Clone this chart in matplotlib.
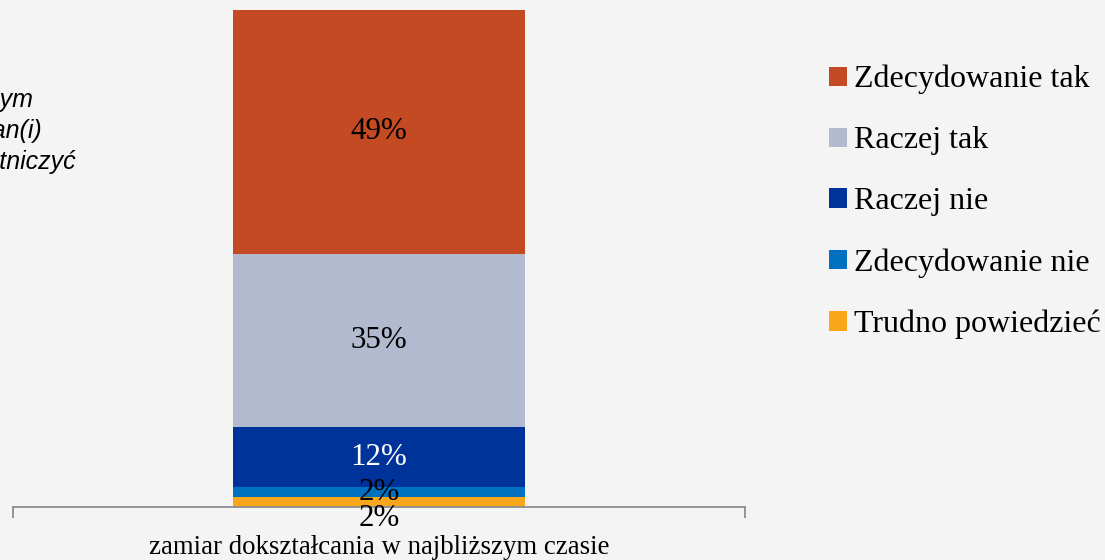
import matplotlib
matplotlib.use("Agg")
import matplotlib.pyplot as plt
from matplotlib.patches import Patch

categories = ["zamiar dokształcania w najbliższym czasie"]
series_names = ["Trudno powiedzieć", "Zdecydowanie nie", "Raczej nie", "Raczej tak", "Zdecydowanie tak"]
series_values = [2, 2, 12, 35, 49]
series_labels = ["2%", "2%", "12%", "35%", "49%"]
colors = ["#F9A61A", "#0070C0", "#003399", "#B2BACF", "#C34A22"]
label_colors = ["black", "black", "white", "black", "black"]
left_text_lines = ["Czy w najbliższym", "czasie planuje Pan(i)", "w szkoleniu uczestniczyć"]

W, H = 1105, 560
BG = "#F4F4F4"
fig = plt.figure(figsize=(W / 100, H / 100), dpi=100, facecolor=BG)
ax = fig.add_axes([13 / W, 1 - 507 / H, (745 - 13) / W, (507 - 10) / H])
ax.set_facecolor(BG)
serif = ["Liberation Serif", "DejaVu Serif"]

bottom = 0
for name, v, lab, c, lc in zip(series_names, series_values, series_labels, colors, label_colors):
    ax.bar(0, v, bottom=bottom, width=292 / 732, color=c, label=name)
    if name == "Trudno powiedzieć":
        ty = -2.4
    else:
        ty = bottom + v / 2
    ax.text(0, ty, lab, ha="center", va="center", fontsize=22.3, family=serif, color=lc, clip_on=False)
    bottom += v

ax.set_xlim(-0.5, 0.5)
ax.set_ylim(0, 100)
for s in ["top", "right", "left"]:
    ax.spines[s].set_visible(False)
ax.spines["bottom"].set_color("#8C8C8C")
ax.spines["bottom"].set_linewidth(1.3)
ax.set_yticks([])
ax.set_xticks([-0.5, 0.5])
ax.set_xticklabels(["", ""])
ax.tick_params(axis="x", length=8, width=1.3, color="#8C8C8C", direction="out")
ax.text(0, -8.1, categories[0], ha="center", va="center", fontsize=19.3, family=serif,
        transform=ax.transData, clip_on=False)

handles = [Patch(facecolor=c, edgecolor="none", label=n) for n, c in zip(series_names, colors)][::-1]
leg = fig.legend(handles=handles, loc="upper left", bbox_to_anchor=(829 / W, 1 - 65 / H),
                 frameon=False, prop={"family": serif, "size": 23},
                 borderaxespad=0, borderpad=0,
                 handlelength=0.55, handleheight=0.55, handletextpad=0.22, labelspacing=1.0)

ys = [107, 138, 169]
ends = [33, 42, 76]
for line, x, y in zip(left_text_lines, ends, ys):
    fig.text(x / W, 1 - y / H, line, ha="right", va="baseline", fontsize=18, style="italic",
             family=["Liberation Sans", "DejaVu Sans"])

fig.savefig("out.png", dpi=100, facecolor=BG)
